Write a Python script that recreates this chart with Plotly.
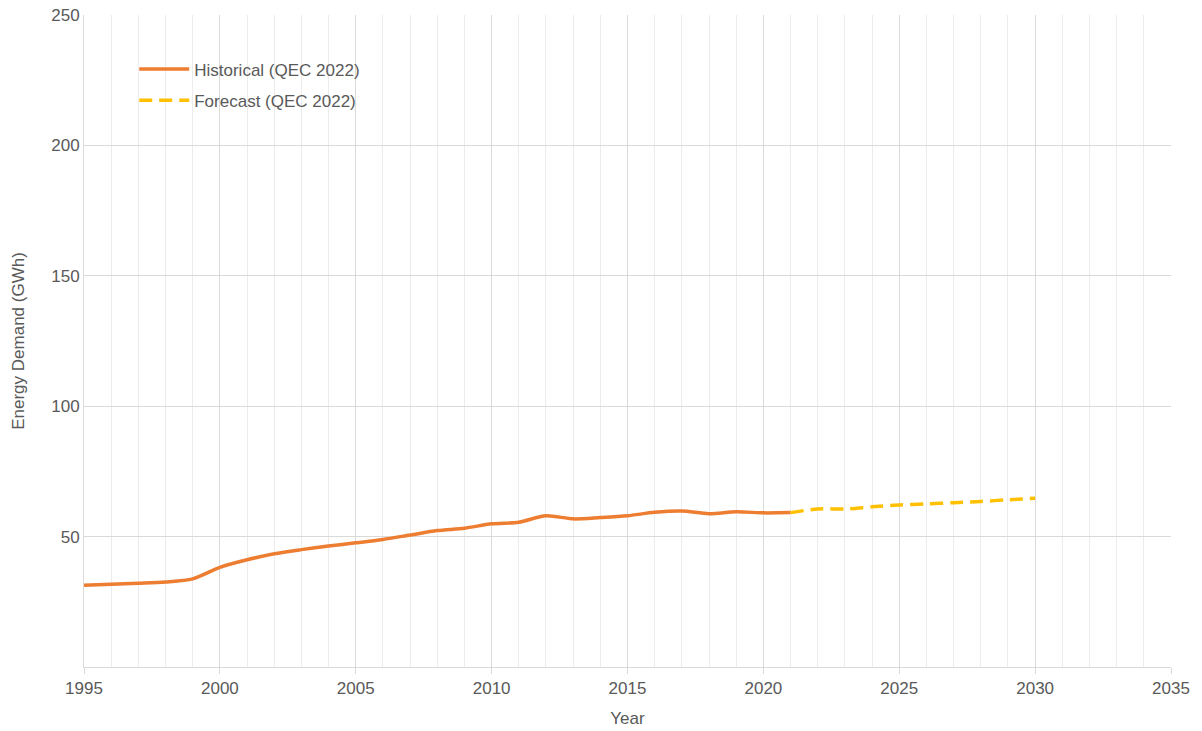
import plotly.graph_objects as go

# Annual energy demand (GWh)
hist_years = list(range(1995, 2022))
hist_values = [31.3, 31.7, 32.1, 32.6, 33.8, 38.2, 41.1, 43.4, 45.0, 46.4,
               47.6, 48.9, 50.6, 52.3, 53.2, 54.9, 55.5, 58.0, 56.8, 57.3,
               58.0, 59.3, 59.8, 58.8, 59.5, 59.1, 59.2]

fc_years = list(range(2021, 2031))
fc_values = [59.2, 60.6, 60.6, 61.4, 62.1, 62.5, 63.0, 63.5, 64.1, 64.7]

y_ticks = [50, 100, 150, 200, 250]
x_ticks = list(range(1995, 2036, 5))

txt = "#595959"
font_family = "Liberation Sans, Arial, sans-serif"

fig = go.Figure()
fig.add_trace(go.Scatter(
    x=hist_years, y=hist_values, mode="lines", name="Historical (QEC 2022)",
    legendgroup="hist",
    line=dict(color="#ED7D31", width=3.5, shape="spline", smoothing=0.8),
))
fig.add_trace(go.Scatter(
    x=fc_years, y=fc_values, mode="lines", name="Forecast (QEC 2022)",
    legendgroup="fc",
    line=dict(color="#FFC000", width=3.5, dash="13px,7px", shape="spline", smoothing=0.8),
))

fig.update_layout(
    width=1202, height=731,
    margin=dict(l=84, r=31, t=15, b=64, autoexpand=False),
    paper_bgcolor="white", plot_bgcolor="white",
    font=dict(family=font_family, size=17, color=txt),
    showlegend=True,
    legend=dict(x=0.0462, y=0.944, xanchor="left", yanchor="top",
                bgcolor="rgba(0,0,0,0)", font=dict(size=17, color=txt),
                tracegroupgap=6, itemwidth=50),
)
fig.update_xaxes(
    range=[1995, 2035], tickvals=x_ticks, ticktext=[str(v) for v in x_ticks],
    showgrid=True, gridcolor="#d9d9d9", gridwidth=1,
    minor=dict(dtick=1, tick0=1995, showgrid=True, gridcolor="#ececec", gridwidth=1),
    showline=True, linecolor="#d9d9d9", linewidth=1,
    ticks="outside", ticklen=6, tickcolor="#d9d9d9",
    zeroline=False, automargin=False,
    title=dict(text="Year", font=dict(size=17, color=txt), standoff=14),
    tickfont=dict(size=17, color=txt),
)
fig.update_yaxes(
    range=[0, 250], tickvals=y_ticks, ticktext=[str(v) for v in y_ticks],
    showgrid=True, gridcolor="#d9d9d9", gridwidth=1,
    showline=True, linecolor="#d9d9d9", linewidth=1,
    zeroline=False, ticks="", automargin=False,
    title=dict(text="Energy Demand (GWh)", font=dict(size=17, color=txt), standoff=22),
    tickfont=dict(size=17, color=txt),
)

fig.write_html("out.html")
